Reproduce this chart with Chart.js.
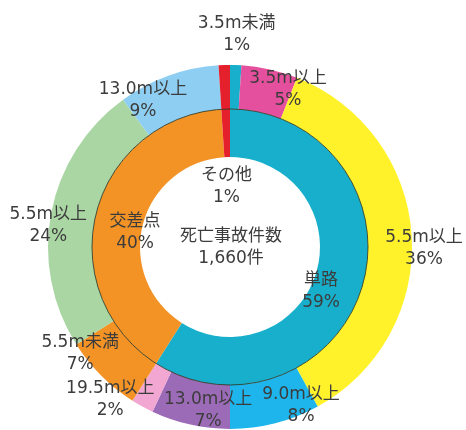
<!DOCTYPE html>
<html>
<head>
<meta charset="utf-8">
<script src="https://cdn.jsdelivr.net/npm/chart.js@4"></script>
<style>
html,body{margin:0;padding:0;background:#fff;}
canvas{display:block;}
</style>
</head>
<body>
<canvas id="c" width="466" height="430"></canvas>
<script>
// ---- data ----
const innerLabels = ['単路', '交差点', 'その他'];
const innerValues = [59, 40, 1];
const innerColors = ['#17AFCB', '#F39325', '#E4202D'];

const outerLabels = ['3.5m未満', '3.5m以上', '5.5m以上', '9.0m以上', '13.0m以上', '19.5m以上', '5.5m未満', '5.5m以上', '13.0m以上', 'その他'];
const outerValues = [1, 5, 36, 8, 7, 2, 7, 24, 9, 1];
const outerColors = ['#17AFCB', '#E4509D', '#FFF22B', '#1DB5EC', '#9C6BB7', '#F1A7D1', '#F39325', '#AAD6A4', '#8ECEF2', '#E4202D'];
const outerShowLabel = [true, true, true, true, true, true, true, true, true, false];

const centerTitle = '死亡事故件数';
const totalCount = 1660;

// label placement (relative to each arc: radius as fraction of chart outer radius, angle offset in degrees)
const outerLabelPos = [[1.165, 0], [0.923, 7.6], [1.066, 4.2], [0.956, -9.7], [0.907, -5], [1.066, 9.3], [1.011, 9.5], [1.005, -4.2], [0.934, -11], null];
const innerLabelPos = [[0.558, 10.1], [0.527, -6], [0.335, -1.5]];

const FONT = '17px "DejaVu Sans", "Noto Sans CJK JP", sans-serif';
const TEXT_COLOR = '#3c3c3c';
const LINE_H = 22;

function drawBlock(ctx, x, y, l1, l2) {
  ctx.fillText(l1, x, y - LINE_H / 2);
  ctx.fillText(l2, x, y + LINE_H / 2);
}

const labelPlugin = {
  id: 'labelPlugin',
  afterDatasetsDraw(chart) {
    const ctx = chart.ctx;
    const outerMeta = chart.getDatasetMeta(0);
    const innerMeta = chart.getDatasetMeta(1);
    const R = outerMeta.data[0].outerRadius;
    // separator circle between rings
    const a0 = innerMeta.data[0];
    ctx.save();
    ctx.beginPath();
    ctx.arc(a0.x, a0.y, a0.outerRadius, 0, Math.PI * 2);
    ctx.strokeStyle = 'rgba(45,55,35,0.85)';
    ctx.lineWidth = 1;
    ctx.stroke();

    ctx.font = FONT;
    ctx.fillStyle = TEXT_COLOR;
    ctx.textAlign = 'center';
    ctx.textBaseline = 'middle';

    const place = (arc, pos, l1, l2) => {
      const mid = (arc.startAngle + arc.endAngle) / 2 + pos[1] * Math.PI / 180;
      const r = pos[0] * R;
      drawBlock(ctx, arc.x + r * Math.cos(mid), arc.y + r * Math.sin(mid), l1, l2);
    };
    outerMeta.data.forEach((arc, i) => {
      if (!outerShowLabel[i] || !outerLabelPos[i]) return;
      place(arc, outerLabelPos[i], outerLabels[i], outerValues[i] + '%');
    });
    innerMeta.data.forEach((arc, i) => {
      place(arc, innerLabelPos[i], innerLabels[i], innerValues[i] + '%');
    });
    // center
    drawBlock(ctx, a0.x + 1, a0.y + 1, centerTitle, totalCount.toLocaleString('en-US') + '件');
    ctx.restore();
  }
};

new Chart(document.getElementById('c'), {
  type: 'doughnut',
  data: {
    labels: outerLabels,
    datasets: [
      { data: outerValues, backgroundColor: outerColors, borderWidth: 0, weight: 44 },
      { data: innerValues, backgroundColor: innerColors, borderWidth: 0, weight: 48 }
    ]
  },
  options: {
    responsive: false,
    devicePixelRatio: 1,
    animation: false,
    cutout: 90,
    layout: { padding: { left: 48, right: 54, top: 65, bottom: 1 } },
    plugins: { legend: { display: false }, tooltip: { enabled: false } }
  },
  plugins: [labelPlugin]
});
</script>
</body>
</html>
